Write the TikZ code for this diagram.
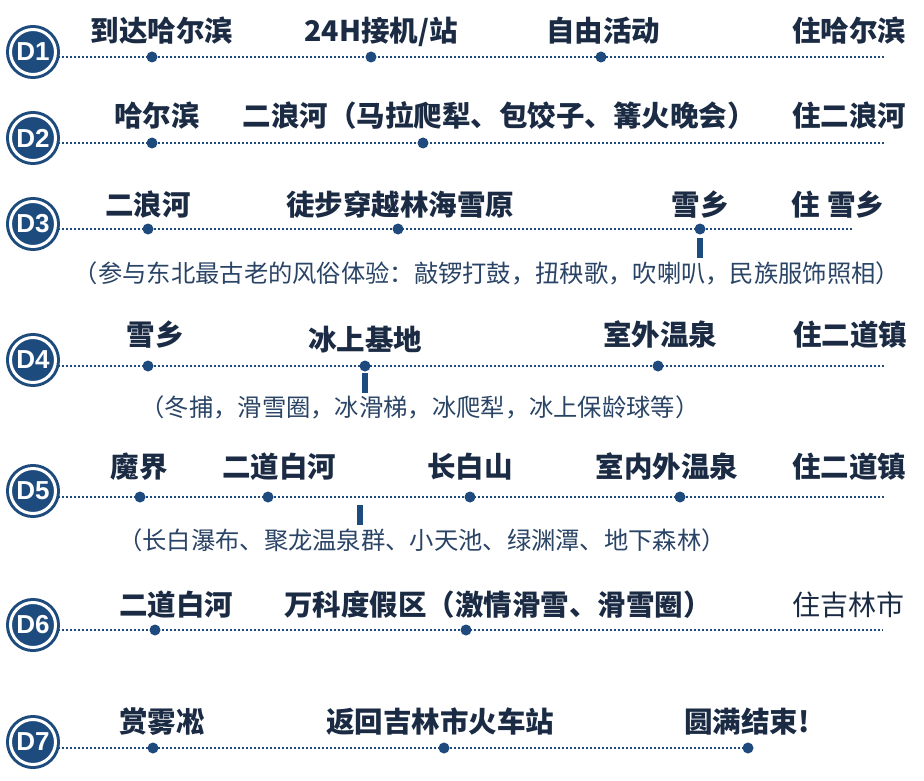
\documentclass[tikz,border=0pt]{standalone}
\usepackage{fontspec}
\newfontfamily\cjk{Noto Sans CJK SC}
\newfontfamily\badgefont{Liberation Sans}
\definecolor{tdark}{HTML}{1B2B44}
\definecolor{bline}{HTML}{1F4A7D}
\definecolor{bdark}{HTML}{1E4B7E}
\definecolor{tsub}{HTML}{2A4466}
\begin{document}
\begin{tikzpicture}[x=1pt,y=-1pt,
  badge/.style={circle, fill=bdark, draw=bdark, line width=3pt, double=white, double distance=3pt,
    minimum size=45pt, inner sep=0pt, text=white, font=\badgefont\bfseries\fontsize{26}{26}\selectfont},
  track/.style={draw=bline, line width=2.2pt, dash pattern=on 2pt off 2pt},
  dotnode/.style={circle, fill=bline, inner sep=0pt, minimum size=11pt},
  ticker/.style={draw=bdark, line width=5.5pt},
  title/.style={font=\cjk\bfseries\fontsize{28.5}{28.5}\selectfont, text=tdark, inner sep=0pt, anchor=base},
  stay/.style={font=\cjk\fontsize{28}{28}\selectfont, text=tdark, inner sep=0pt, anchor=base},
  sub/.style={font=\cjk\fontsize{24.3}{24.3}\selectfont, text=tsub, inner sep=0pt, anchor=base}]
\useasboundingbox[fill=white] (0,0) rectangle (924,781);

% ---------- D1 ----------
\coordinate (s1) at (50,57); \coordinate (e1) at (885,57);
\draw[track] (s1) -- (e1);
\node[badge] (b1) at (33,52) {D1};
\node[dotnode] (d1a) at (152,57) {};
\node[dotnode] (d1b) at (371,57) {};
\node[dotnode] (d1c) at (601,57) {};
\node[title] (t1a) at (162,42) {到达哈尔滨};
\node[title] (t1b) at (381,42) {24H接机/站};
\node[title] (t1c) at (603,42) {自由活动};
\node[title] (t1d) at (849,42) {住哈尔滨};

% ---------- D2 ----------
\coordinate (s2) at (50,143); \coordinate (e2) at (885,143);
\draw[track] (s2) -- (e2);
\node[badge] (b2) at (33,138) {D2};
\node[dotnode] (d2a) at (152,143) {};
\node[dotnode] (d2b) at (423,143) {};
\node[title] (t2a) at (157,127) {哈尔滨};
\node[title] (t2b) at (499,127) {二浪河（马拉爬犁、包饺子、篝火晚会）};
\node[title] (t2c) at (849,127) {住二浪河};

% ---------- D3 ----------
\coordinate (s3) at (50,229); \coordinate (e3) at (852,229);
\draw[track] (s3) -- (e3);
\node[badge] (b3) at (33,224) {D3};
\node[dotnode] (d3a) at (148,229) {};
\node[dotnode] (d3b) at (398,229) {};
\node[dotnode] (d3c) at (700,229) {};
\coordinate (k3a) at (700,238); \coordinate (k3b) at (700,258);
\draw[ticker] (k3a) -- (k3b);
\node[title] (t3a) at (148,215) {二浪河};
\node[title] (t3b) at (400,215) {徒步穿越林海雪原};
\node[title] (t3c) at (700,215) {雪乡};
\node[title] (t3d) at (838,215) {住 雪乡};
\node[sub] (u3) at (487,282) {（参与东北最古老的风俗体验：敲锣打鼓，扭秧歌，吹喇叭，民族服饰照相）};

% ---------- D4 ----------
\coordinate (s4) at (50,366); \coordinate (e4) at (885,366);
\draw[track] (s4) -- (e4);
\node[badge] (b4) at (33,360) {D4};
\node[dotnode] (d4a) at (148,366) {};
\node[dotnode] (d4b) at (365,366) {};
\node[dotnode] (d4c) at (658,366) {};
\coordinate (k4a) at (365,373); \coordinate (k4b) at (365,393);
\draw[ticker] (k4a) -- (k4b);
\node[title] (t4a) at (155,345) {雪乡};
\node[title] (t4b) at (365,350) {冰上基地};
\node[title] (t4c) at (660,345) {室外温泉};
\node[title] (t4d) at (850,345) {住二道镇};
\node[sub] (u4) at (420,416) {（冬捕，滑雪圈，冰滑梯，冰爬犁，冰上保龄球等）};

% ---------- D5 ----------
\coordinate (s5) at (50,497); \coordinate (e5) at (885,497);
\draw[track] (s5) -- (e5);
\node[badge] (b5) at (33,491) {D5};
\node[dotnode] (d5a) at (140,497) {};
\node[dotnode] (d5b) at (268,497) {};
\node[dotnode] (d5c) at (470,497) {};
\node[dotnode] (d5d) at (680,497) {};
\coordinate (k5a) at (360,505); \coordinate (k5b) at (360,525);
\draw[ticker] (k5a) -- (k5b);
\node[title] (t5a) at (139,477) {魔界};
\node[title] (t5b) at (279,477) {二道白河};
\node[title] (t5c) at (470,477) {长白山};
\node[title] (t5d) at (667,477) {室内外温泉};
\node[title] (t5e) at (849,477) {住二道镇};
\node[sub] (u5) at (422,549) {（长白瀑布、聚龙温泉群、小天池、绿渊潭、地下森林）};

% ---------- D6 ----------
\coordinate (s6) at (50,630); \coordinate (e6) at (883,630);
\draw[track] (s6) -- (e6);
\node[badge] (b6) at (33,625) {D6};
\node[dotnode] (d6a) at (155,630) {};
\node[dotnode] (d6b) at (466,630) {};
\node[title] (t6a) at (176,615) {二道白河};
\node[title] (t6b) at (498,615) {万科度假区（激情滑雪、滑雪圈）};
\node[stay] (t6c) at (848,615) {住吉林市};

% ---------- D7 ----------
\coordinate (s7) at (50,748); \coordinate (e7) at (748,748);
\draw[track] (s7) -- (e7);
\node[badge] (b7) at (33,742) {D7};
\node[dotnode] (d7a) at (153,748) {};
\node[dotnode] (d7b) at (444,748) {};
\node[dotnode] (d7c) at (748,748) {};
\node[title] (t7a) at (162,732) {赏雾凇};
\node[title] (t7b) at (440,732) {返回吉林市火车站};
\node[title] (t7c) at (747,732) {圆满结束!};
\end{tikzpicture}
\end{document}
